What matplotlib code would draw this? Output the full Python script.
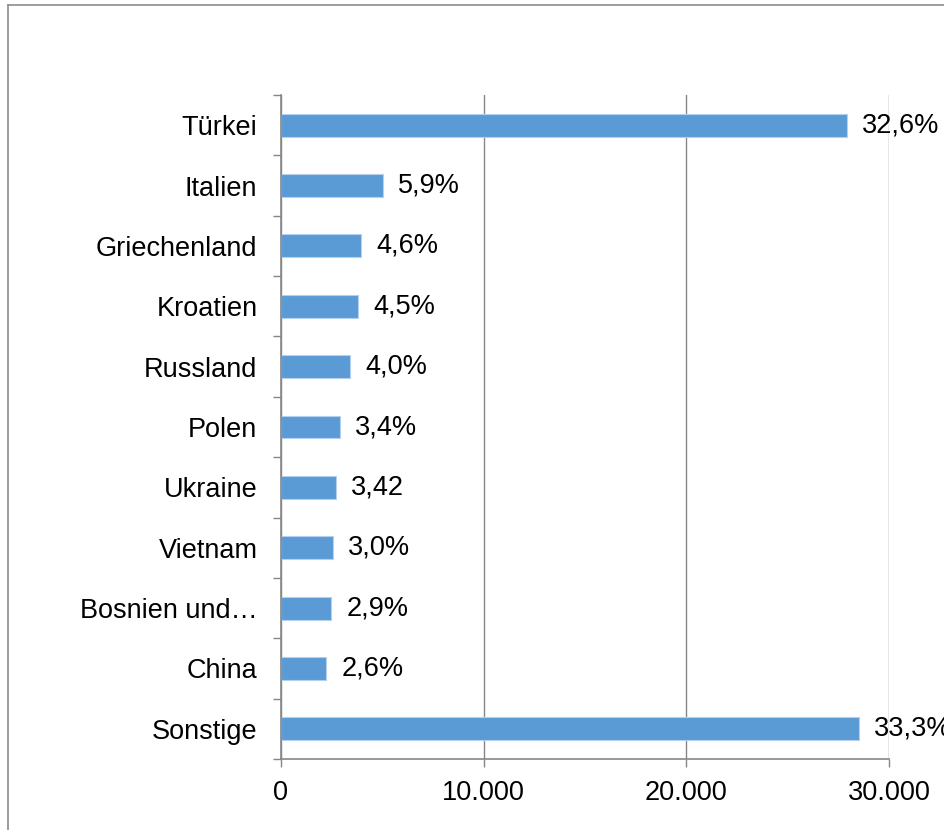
import matplotlib.pyplot as plt
from matplotlib.lines import Line2D

plt.rcParams['font.family'] = ['Liberation Sans', 'DejaVu Sans']

laender = ['Türkei', 'Italien', 'Griechenland', 'Kroatien', 'Russland', 'Polen',
           'Ukraine', 'Vietnam', 'Bosnien und…', 'China', 'Sonstige']
werte = [27920, 5030, 3950, 3800, 3400, 2910, 2710, 2570, 2470, 2220, 28520]
anteile = ['32,6%', '5,9%', '4,6%', '4,5%', '4,0%', '3,4%', '3,42', '3,0%', '2,9%', '2,6%', '33,3%']
x_ticks = [0, 10000, 20000, 30000]
x_labels = ['0', '10.000', '20.000', '30.000']

W, H = 944, 830
fig = plt.figure(figsize=(W / 100, H / 100), dpi=100)
ax = fig.add_axes([281 / W, 1 - 759 / H, (889 - 281) / W, (759 - 95) / H])

grau = '#868686'
fs = 19.5
pos = list(range(len(laender)))
ax.barh(pos, werte, height=0.38, color='#5b9bd5', edgecolor='#b4d0ee', linewidth=0.8, zorder=2)
for p, w, t in zip(pos, werte, anteile):
    ax.annotate(t, (w, p), xytext=(11, 0), textcoords='offset points',
                va='center', ha='left', fontsize=fs, zorder=4)

ax.set_xlim(0, 30000)
ax.set_ylim(len(laender) - 0.5, -0.5)
ax.set_xticks(x_ticks)
ax.set_xticklabels(x_labels, fontsize=fs)
ax.set_yticks(pos)
ax.set_yticklabels(laender, fontsize=fs)
ax.set_yticks([p + 0.5 for p in range(-1, len(laender))], minor=True)
ax.tick_params(axis='y', which='major', length=0, pad=17)
ax.tick_params(axis='y', which='minor', length=6, color=grau, width=1)
ax.tick_params(axis='x', length=6, color=grau, width=1, pad=9)
ax.grid(axis='x', color=grau, linewidth=1, zorder=1)
ax.set_axisbelow(True)
for s in ['top', 'right']:
    ax.spines[s].set_visible(False)
for s in ['left', 'bottom']:
    ax.spines[s].set_color(grau)
    ax.spines[s].set_linewidth(1.2)

# Rahmen des Diagrammbereichs (nur oben und links sichtbar)
fig.add_artist(Line2D([8 / W, 8 / W], [0, 1 - 5 / H], color='#8c8c8c', linewidth=1.2))
fig.add_artist(Line2D([8 / W, 1], [1 - 5 / H, 1 - 5 / H], color='#8c8c8c', linewidth=1.2))

fig.savefig('out.png', dpi=100)
